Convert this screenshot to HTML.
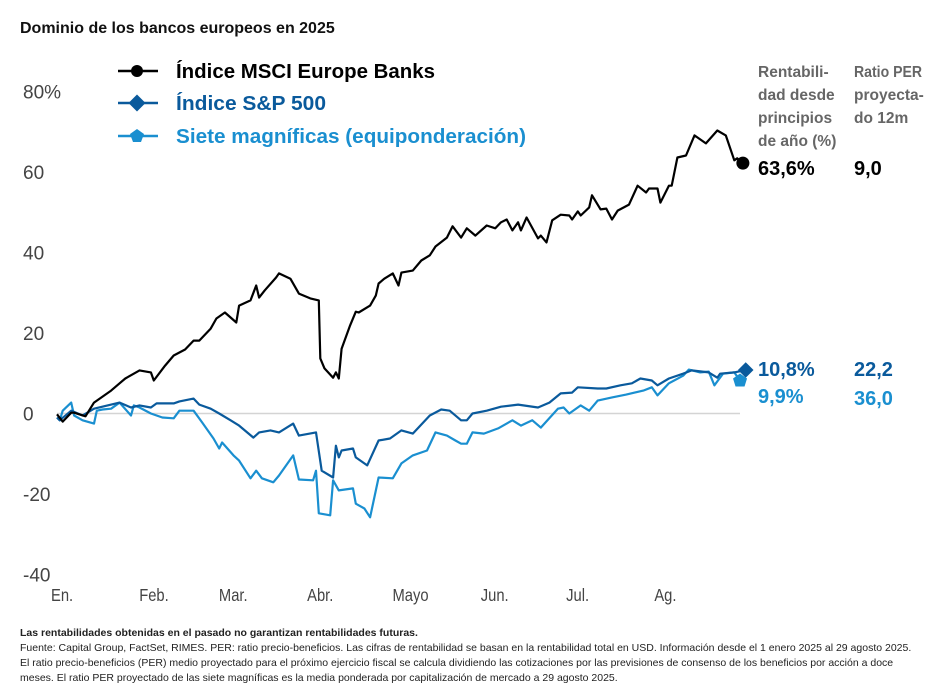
<!DOCTYPE html>
<html><head><meta charset="utf-8"><style>
body{margin:0;background:#fff;width:931px;height:687px;overflow:hidden;font-family:"Liberation Sans",sans-serif;}
svg{display:block}
</style></head><body>
<svg width="931" height="687" id="chart">
<text x="20" y="33" font-size="16" font-weight="bold" fill="#111">Dominio de los bancos europeos en 2025</text>
<g id="axes"></g>
<g id="series"></g>
<g font-size="20.5" font-weight="bold">
 <g><line x1="118" y1="71" x2="158" y2="71" stroke="#000" stroke-width="2.5"/><circle cx="137" cy="71" r="6" fill="#000"/><text x="176" y="78" fill="#000" textLength="259" lengthAdjust="spacingAndGlyphs">Índice MSCI Europe Banks</text></g>
 <g><line x1="118" y1="103" x2="158" y2="103" stroke="#0a5a9c" stroke-width="2.5"/><rect x="131" y="97" width="12" height="12" fill="#0a5a9c" transform="rotate(45 137 103)"/><text x="176" y="110" fill="#0a5a9c" textLength="150" lengthAdjust="spacingAndGlyphs">Índice S&amp;P 500</text></g>
 <g><line x1="118" y1="136" x2="158" y2="136" stroke="#1a8fd0" stroke-width="2.5"/><polygon points="137,129 144,134 141,142 133,142 130,134" fill="#1a8fd0"/><text x="176" y="143" fill="#1a8fd0" textLength="350" lengthAdjust="spacingAndGlyphs">Siete magníficas (equiponderación)</text></g>
</g>
<g font-size="15.5" font-weight="bold" fill="#666">
 <text x="758" y="77">Rentabili-</text><text x="758" y="100">dad desde</text><text x="758" y="123">principios</text><text x="758" y="146">de año (%)</text>
 <text x="854" y="77" textLength="68" lengthAdjust="spacingAndGlyphs">Ratio PER</text><text x="854" y="100">proyecta-</text><text x="854" y="123">do 12m</text>
</g>
<g font-size="20" font-weight="bold">
 <text x="758" y="175" fill="#000">63,6%</text><text x="854" y="175" fill="#000">9,0</text>
 <text x="758" y="376" fill="#0a5a9c">10,8%</text><text x="854" y="376" fill="#0a5a9c">22,2</text>
 <text x="758" y="403" fill="#1a8fd0">9,9%</text><text x="854" y="405" fill="#1a8fd0">36,0</text>
</g>
<g font-size="10.5" fill="#222">
 <text x="20" y="636" font-weight="bold">Las rentabilidades obtenidas en el pasado no garantizan rentabilidades futuras.</text>
 <text x="20" y="651">Fuente: Capital Group, FactSet, RIMES. PER: ratio precio-beneficios. Las cifras de rentabilidad se basan en la rentabilidad total en USD. Información desde el 1 enero 2025 al 29 agosto 2025.</text>
 <text x="20" y="666">El ratio precio-beneficios (PER) medio proyectado para el próximo ejercicio fiscal se calcula dividiendo las cotizaciones por las previsiones de consenso de los beneficios por acción a doce</text>
 <text x="20" y="681">meses. El ratio PER proyectado de las siete magníficas es la media ponderada por capitalización de mercado a 29 agosto 2025.</text>
</g>
</svg>
<script>
const yTicks=[80,60,40,20,0,-20,-40];
const yTickLabels=["80%","60","40","20","0","-20","-40"];
const monthLabels=["En.","Feb.","Mar.","Abr.","Mayo","Jun.","Jul.","Ag."];
const monthDays=[0,31,59,90,120,151,181,212];
const msciDays=[0,2,5,6,10,13,19,22,24,29,33,34,38,41,45,48,50,54,56,59,63,64,68,70,71,73,77,78,82,85,89,92,92.5,94,97,98,99,100,103,105,106,110,112,113,115,118,120,121,125,128,131,133,137,139,142,144,147,151,154,156,158,160,162,163,165,169,170,172,174,177,180,181,183,184,187,188,191,193,195,197,201,204,207,208,211,212,215,216,218,221,224,228,232,235,238,239,241];
const msciVals=[-0.2,-2,0.2,0.2,-0.7,2.7,5.7,7.5,8.7,10.7,10.2,8.2,11.9,14.4,15.9,18.1,18.1,21.1,23.6,25.1,22.6,26.8,28.1,31.8,28.8,30.6,33.8,34.8,33.5,29.8,28.6,28.1,13.7,11.2,8.9,10.2,8.7,16.1,21.9,25.3,25.1,26.8,29.3,32.3,33.5,34.8,31.8,35,35.5,38,39.3,41.5,43.7,46.5,43.7,46,44.2,46.7,46,47.5,48.2,45.5,47.5,45.5,48.7,43.5,44.2,42.5,48,49.4,49.2,48.2,50.2,49.2,51.2,54.2,50.7,50.9,48.2,50.4,51.9,56.6,54.9,55.9,55.9,52.4,56.6,56.6,63.6,64.1,69.1,67.1,70.3,69.1,62.9,63.4,62.2];
const spDays=[0,1,5,9,13,22,26,29,33,35,41,43,48,50,54,57,61,64,69,71,75,78,83,85,91,93,97,98,99,100,104,105,109,113,117,121,125,131,135,138,142,144,146,151,156,162,169,173,177,181,183,190,193,198,202,205,209,211,215,220,223,229,232,233,238,242];
const spVals=[-1,-1.7,0.7,-0.5,1.2,2.7,1.5,2,1.5,2.5,2.5,3,3.7,2.2,1.2,0,-1.7,-3,-6,-4.7,-4.2,-4.7,-2.5,-5.5,-4.7,-14.2,-15.9,-8,-10.9,-9.2,-8.7,-10.9,-12.9,-6.7,-6.2,-4.2,-5,-0.5,1,0.7,-1.7,-1.7,0,0.7,1.7,2.2,1.5,2.7,5,5.2,6.5,6.2,6.2,7,7.5,8.7,8.2,7,8.7,9.9,10.7,10.2,8.9,9.9,10.2,10.8];
const sieteDays=[0,1,2,5,6,9,13,14,16,19,22,26,27,29,33,37,41,43,48,51,55,57,58,62,64,68,70,72,76,78,83,85,90,91,92,96,97,99,104,105,108,110,113,118,121,125,130,133,137,140,142,144,146,150,155,160,163,167,170,176,178,180,184,187,190,195,200,206,209,211,215,220,222,226,229,231,234,238,240];
const sieteVals=[-1,-1.7,0.7,2.7,-0.5,-1.7,-2.5,0.7,1,1.2,2.7,-0.5,2,1.5,0,-1,-1.2,0.7,0.7,-2.2,-6.2,-8.7,-7.2,-10.4,-11.7,-16.1,-14.2,-16.1,-17.1,-15.4,-10.4,-16.4,-16.6,-14.2,-24.8,-25.3,-16.6,-19.1,-18.6,-22.4,-23.6,-25.8,-15.9,-16.1,-12.4,-10.4,-9.2,-4.7,-5.5,-6.7,-7.5,-7.5,-4.7,-5,-3.7,-1.7,-3,-1.7,-3.5,1.2,1.5,0,2,0.7,3.2,4,4.7,5.7,6.5,4.5,7.5,9.4,10.9,10.2,10.4,7,9.9,10.2,8.2];

const NS="http://www.w3.org/2000/svg";
function xS(d){return 57+d*2.846;}
function yS(v){return 413.5-v*4.025;}
const axes=document.getElementById('axes');
const series=document.getElementById('series');
function mk(tag,attrs,parent){const e=document.createElementNS(NS,tag);for(const k in attrs)e.setAttribute(k,attrs[k]);parent.appendChild(e);return e;}

const zl=mk('line',{x1:57,x2:740,y1:yS(0),y2:yS(0),stroke:'#d4d4d4','stroke-width':1.5},axes);


yTicks.forEach((t,i)=>{
 const tx=mk('text',{x:23,y:yS(t)+7,'font-size':19,fill:'#444'},axes);
 tx.textContent=yTickLabels[i];
 
 
});
monthLabels.forEach((m,i)=>{
 const x0=xS(monthDays[i])-6;
 const tx=mk('text',{x:0,y:0,'font-size':18,fill:'#444',transform:`translate(${x0} 601) scale(0.82 1)`},axes);
 tx.textContent=m;
 
 
});
function line(days,vals,color,name){
 const d=days.map((x,i)=>(i?'L':'M')+xS(x).toFixed(1)+' '+yS(vals[i]).toFixed(1)).join(' ');
 const p=mk('path',{d:d,fill:'none',stroke:color,'stroke-width':2.2,'stroke-linejoin':'round'},series);
 
 
}
line(sieteDays,sieteVals,'#1a8fd0','siete-line');
line(spDays,spVals,'#0a5a9c','sp500-line');
line(msciDays,msciVals,'#000','msci-line');
const lm=msciDays.length-1;
const c=mk('circle',{cx:xS(msciDays[lm]),cy:yS(msciVals[lm]),r:6.5,fill:'#000'},series);


const ls=spDays.length-1, sx=xS(spDays[ls]), sy=yS(spVals[ls]);
const r=mk('rect',{x:sx-5.5,y:sy-5.5,width:11,height:11,fill:'#0a5a9c',transform:`rotate(45 ${sx} ${sy})`},series);


const lg=sieteDays.length-1, gx=xS(sieteDays[lg]), gy=yS(sieteVals[lg]);
const pg=mk('polygon',{points:`${gx},${gy-7} ${gx+7},${gy-2} ${gx+4.5},${gy+6} ${gx-4.5},${gy+6} ${gx-7},${gy-2}`,fill:'#1a8fd0'},series);


</script>
</body></html>
